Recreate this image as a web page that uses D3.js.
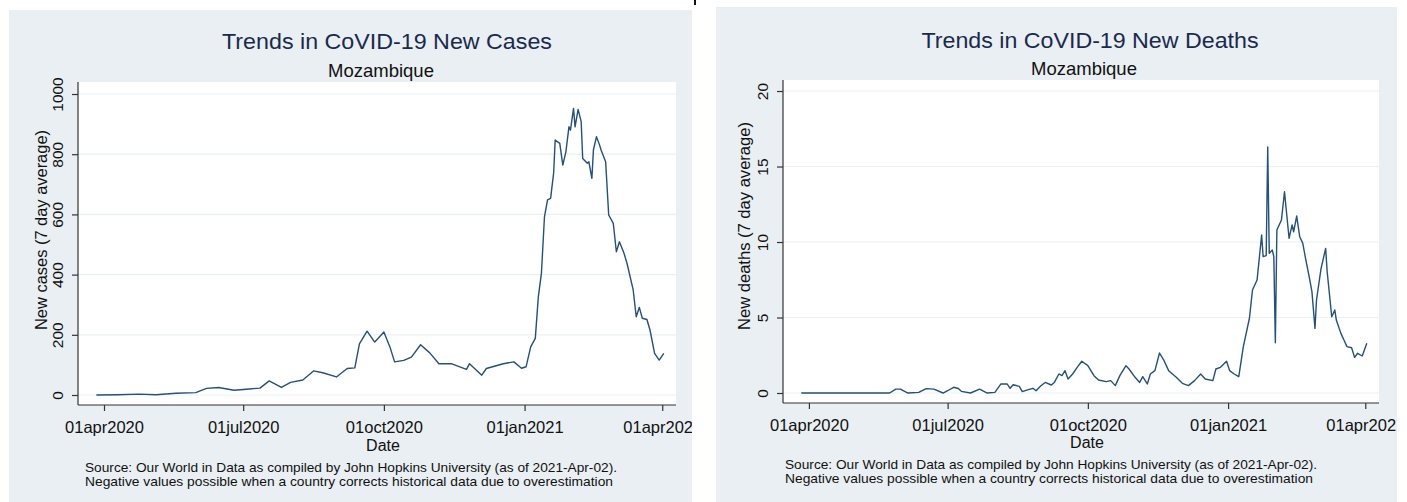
<!DOCTYPE html>
<html>
<head>
<meta charset="utf-8">
<script src="https://cdn.jsdelivr.net/npm/d3@7"></script>
<style>
  body { margin: 0; background: #fff; }
  svg { display: block; }
  text { font-family: "Liberation Sans", Arial, sans-serif; }
</style>
</head>
<body>
<script>
// ---- data ----
const caseDates = [
  '2020-03-27','2020-04-10','2020-04-24','2020-05-05','2020-05-18','2020-05-31','2020-06-07','2020-06-15','2020-06-25','2020-07-05',
  '2020-07-12','2020-07-18','2020-07-26','2020-08-01','2020-08-09','2020-08-16','2020-08-22','2020-08-31','2020-09-07','2020-09-12',
  '2020-09-15','2020-09-20','2020-09-25','2020-09-27','2020-10-01','2020-10-05','2020-10-08','2020-10-14','2020-10-19','2020-10-25',
  '2020-10-31','2020-11-06','2020-11-14','2020-11-24','2020-11-26','2020-12-04','2020-12-07','2020-12-18','2020-12-25','2020-12-30',
  '2021-01-02','2021-01-05','2021-01-08','2021-01-10','2021-01-12','2021-01-14','2021-01-16','2021-01-18','2021-01-20','2021-01-21',
  '2021-01-24','2021-01-26','2021-01-28','2021-01-30','2021-01-31','2021-02-02','2021-02-03','2021-02-05','2021-02-07','2021-02-08',
  '2021-02-11','2021-02-12','2021-02-14','2021-02-15','2021-02-17','2021-02-19','2021-02-20','2021-02-23','2021-02-25','2021-02-28',
  '2021-03-02','2021-03-04','2021-03-07','2021-03-09','2021-03-13','2021-03-15','2021-03-17','2021-03-19','2021-03-22','2021-03-24',
  '2021-03-27','2021-03-30','2021-04-02'
];
const caseValues = [
  0, 1, 3, 1, 6, 8, 22, 25, 16, 20,
  23, 47, 25, 42, 50, 80, 74, 60, 88, 90,
  170, 212, 176, 187, 209, 159, 110, 115, 126, 167,
  140, 104, 104, 85, 104, 66, 88, 104, 110, 89,
  94, 160, 188, 327, 404, 592, 648, 653, 737, 847,
  836, 764, 808, 891, 880, 952, 891, 949, 908, 786,
  770, 775, 720, 814, 858, 831, 814, 775, 598, 570,
  476, 509, 471, 437, 349, 260, 291, 255, 251, 216,
  138, 116, 138
];

const deathDates = [
  '2020-03-27','2020-05-24','2020-05-28','2020-05-31','2020-06-05','2020-06-12','2020-06-17','2020-06-22','2020-06-28','2020-07-01',
  '2020-07-05','2020-07-08','2020-07-10','2020-07-16','2020-07-22','2020-07-27','2020-08-01','2020-08-05','2020-08-09','2020-08-11',
  '2020-08-13','2020-08-17','2020-08-19','2020-08-23','2020-08-26','2020-08-28','2020-08-31','2020-09-03','2020-09-07','2020-09-09',
  '2020-09-12','2020-09-14','2020-09-16','2020-09-18','2020-09-21','2020-09-24','2020-09-27','2020-10-01','2020-10-05','2020-10-08',
  '2020-10-13','2020-10-16','2020-10-19','2020-10-22','2020-10-26','2020-10-28','2020-11-01','2020-11-04','2020-11-06','2020-11-09',
  '2020-11-11','2020-11-14','2020-11-17','2020-11-20','2020-11-23','2020-11-28','2020-12-02','2020-12-06','2020-12-10','2020-12-14',
  '2020-12-17','2020-12-22','2020-12-24','2020-12-27','2020-12-31','2021-01-02','2021-01-05','2021-01-08','2021-01-11','2021-01-15',
  '2021-01-17','2021-01-20','2021-01-23','2021-01-24','2021-01-26','2021-01-27','2021-01-28','2021-01-30','2021-01-31','2021-02-01',
  '2021-02-02','2021-02-05','2021-02-07','2021-02-10','2021-02-12','2021-02-13','2021-02-15','2021-02-17','2021-02-19','2021-02-21',
  '2021-02-23','2021-02-25','2021-02-27','2021-02-28','2021-03-03','2021-03-06','2021-03-07','2021-03-10','2021-03-12','2021-03-13',
  '2021-03-16','2021-03-18','2021-03-20','2021-03-23','2021-03-25','2021-03-27','2021-03-30','2021-04-02'
];
const deathValues = [
  0, 0, 0.26, 0.26, 0, 0.04, 0.29, 0.26, 0, 0.15,
  0.38, 0.3, 0.11, 0, 0.26, 0, 0.04, 0.6, 0.6, 0.31,
  0.55, 0.44, 0.09, 0.22, 0.31, 0.15, 0.46, 0.7, 0.53, 0.7,
  1.26, 1.15, 1.48, 0.93, 1.26, 1.7, 2.1, 1.81, 1.15, 0.86,
  0.75, 0.82, 0.49, 1.15, 1.81, 1.59, 1.04, 0.7, 1.08, 0.6,
  1.26, 1.48, 2.65, 2.14, 1.48, 1.04, 0.64, 0.49, 0.82, 1.26,
  0.93, 0.82, 1.59, 1.7, 2.1, 1.48, 1.26, 1.08, 3.07, 4.95,
  6.82, 7.48, 10.46, 9.03, 9.1, 16.3, 9.25, 9.47, 9.03, 3.33,
  10.8, 11.46, 13.33, 10.25, 11.13, 10.68, 11.72, 10.35, 9.91, 8.81,
  7.81, 6.71, 4.28, 6.16, 8.26, 9.58, 8.03, 5.05, 5.5, 4.83,
  3.95, 3.51, 3.07, 3.0, 2.36, 2.63, 2.45, 3.29
];

const xTickDates = ['2020-04-01', '2020-07-01', '2020-10-01', '2021-01-01', '2021-04-01'];
const xTickLabels = ['01apr2020', '01jul2020', '01oct2020', '01jan2021', '01apr2021'];
const caseTicks = [0, 200, 400, 600, 800, 1000];
const deathTicks = [0, 5, 10, 15, 20];
const sourceLines = [
  'Source: Our World in Data as compiled by John Hopkins University (as of 2021-Apr-02).',
  'Negative values possible when a country corrects historical data due to overestimation'
];

// ---- drawing ----
const parse = d3.timeParse('%Y-%m-%d');
const xStart = parse('2020-03-15');
const xEnd = parse('2021-04-10');

const W = 1407, H = 502;
const svg = d3.select('body').append('svg').attr('width', W).attr('height', H);
const defs = svg.append('defs');

// tiny mark at the top between the panels
svg.append('rect').attr('x', 694).attr('y', 0).attr('width', 2).attr('height', 5).attr('fill', '#111');

function drawPanel(o) {
  defs.append('clipPath').attr('id', o.id)
    .append('rect').attr('x', o.px).attr('y', o.py).attr('width', o.pw).attr('height', o.ph);

  const g = svg.append('g').attr('clip-path', 'url(#' + o.id + ')');

  g.append('rect')
    .attr('x', o.px).attr('y', o.py).attr('width', o.pw).attr('height', o.ph)
    .attr('fill', '#e9eff2');

  g.append('rect')
    .attr('x', o.left).attr('y', o.top)
    .attr('width', o.right - o.left).attr('height', o.bottom - o.top)
    .attr('fill', '#fff');

  const x = d3.scaleTime().domain([xStart, xEnd]).range([o.left, o.right]);
  const y = d3.scaleLinear().domain(o.yDomain).range([o.bottom, o.top]);

  // grid
  g.selectAll('line.grid')
    .data(o.ticks)
    .enter()
    .append('line')
    .attr('class', 'grid')
    .attr('x1', o.left).attr('x2', o.right)
    .attr('y1', d => y(d)).attr('y2', d => y(d))
    .attr('stroke', '#eaf1f3')
    .attr('stroke-width', 1.2);

  const data = o.dates.map((d, i) => ({ date: parse(d), value: o.values[i] }));

  const line = d3.line()
    .x(d => x(d.date))
    .y(d => y(d.value));

  g.append('path')
    .datum(data)
    .attr('d', line)
    .attr('fill', 'none')
    .attr('stroke', '#24507a')
    .attr('stroke-width', 1.4)
    .attr('stroke-linejoin', 'round');

  // y axis
  const yAxis = d3.axisLeft(y).tickValues(o.ticks).tickFormat(d3.format('d'))
    .tickSize(6).tickSizeOuter(0);
  const ya = g.append('g')
    .attr('transform', 'translate(' + o.left + ',0)')
    .call(yAxis);
  ya.select('.domain').attr('stroke', '#333').attr('stroke-width', 1.2)
    .attr('d', 'M0,' + o.top + 'V' + o.bottom);
  ya.selectAll('.tick line').attr('stroke', '#333').attr('stroke-width', 1.2);
  ya.selectAll('.tick text')
    .attr('transform', 'rotate(-90)')
    .attr('x', 0).attr('y', -15).attr('dy', 0)
    .attr('text-anchor', 'middle')
    .attr('font-size', 15.5)
    .attr('fill', '#111');

  // x axis
  const xAxis = d3.axisBottom(x)
    .tickValues(xTickDates.map(parse))
    .tickFormat((d, i) => xTickLabels[i])
    .tickSize(6).tickSizeOuter(0);
  const xa = g.append('g')
    .attr('transform', 'translate(0,' + o.bottom + ')')
    .call(xAxis);
  xa.select('.domain').attr('stroke', '#333').attr('stroke-width', 1.2)
    .attr('d', 'M' + o.left + ',0H' + o.right);
  xa.selectAll('.tick line').attr('stroke', '#333').attr('stroke-width', 1.2);
  xa.selectAll('.tick text')
    .attr('y', o.xLabelY - o.bottom).attr('dy', 0)
    .attr('font-size', 16.5)
    .attr('fill', '#111');

  // titles
  g.append('text')
    .attr('x', o.titleX).attr('y', o.titleY)
    .attr('text-anchor', 'middle')
    .attr('font-size', 22.5)
    .attr('fill', '#1a2a4e')
    .attr('textLength', o.titleLen)
    .attr('lengthAdjust', 'spacingAndGlyphs')
    .text(o.title);

  g.append('text')
    .attr('x', o.subX).attr('y', o.subY)
    .attr('text-anchor', 'middle')
    .attr('font-size', 18.5)
    .attr('fill', '#111')
    .text('Mozambique');

  g.append('text')
    .attr('transform', 'translate(' + o.yTitleX + ',' + o.yTitleY + ') rotate(-90)')
    .attr('text-anchor', 'middle')
    .attr('font-size', 16)
    .attr('fill', '#111')
    .attr('textLength', o.yTitleLen)
    .attr('lengthAdjust', 'spacingAndGlyphs')
    .text(o.yTitle);

  g.append('text')
    .attr('x', (o.left + o.right) / 2 + 6).attr('y', o.dateY)
    .attr('text-anchor', 'middle')
    .attr('font-size', 16)
    .attr('fill', '#111')
    .text('Date');

  sourceLines.forEach((s, i) => {
    g.append('text')
      .attr('x', o.srcX).attr('y', o.srcY + i * 13.5)
      .attr('font-size', 13.5)
      .attr('fill', '#111')
      .attr('textLength', i === 0 ? 532 : 528)
      .attr('lengthAdjust', 'spacingAndGlyphs')
      .text(s);
  });
}

drawPanel({
  id: 'clip-cases',
  px: 9, py: 10, pw: 683, ph: 492,
  left: 78, right: 676, top: 82, bottom: 405,
  yDomain: [-33.2, 1039.9],
  ticks: caseTicks,
  dates: caseDates, values: caseValues,
  title: 'Trends in CoVID-19 New Cases', titleX: 387, titleY: 49, titleLen: 330,
  subX: 381, subY: 77,
  yTitle: 'New cases (7 day average)', yTitleX: 47, yTitleY: 230, yTitleLen: 200,
  xLabelY: 433, dateY: 451,
  srcX: 85, srcY: 472
});

drawPanel({
  id: 'clip-deaths',
  px: 716, py: 7, pw: 681, ph: 495,
  left: 783, right: 1379, top: 80, bottom: 403,
  yDomain: [-0.662, 20.73],
  ticks: deathTicks,
  dates: deathDates, values: deathValues,
  title: 'Trends in CoVID-19 New Deaths', titleX: 1090, titleY: 48, titleLen: 337,
  subX: 1084, subY: 75,
  yTitle: 'New deaths (7 day average)', yTitleX: 750, yTitleY: 226, yTitleLen: 208,
  xLabelY: 431, dateY: 448,
  srcX: 785, srcY: 469
});
</script>
</body>
</html>
